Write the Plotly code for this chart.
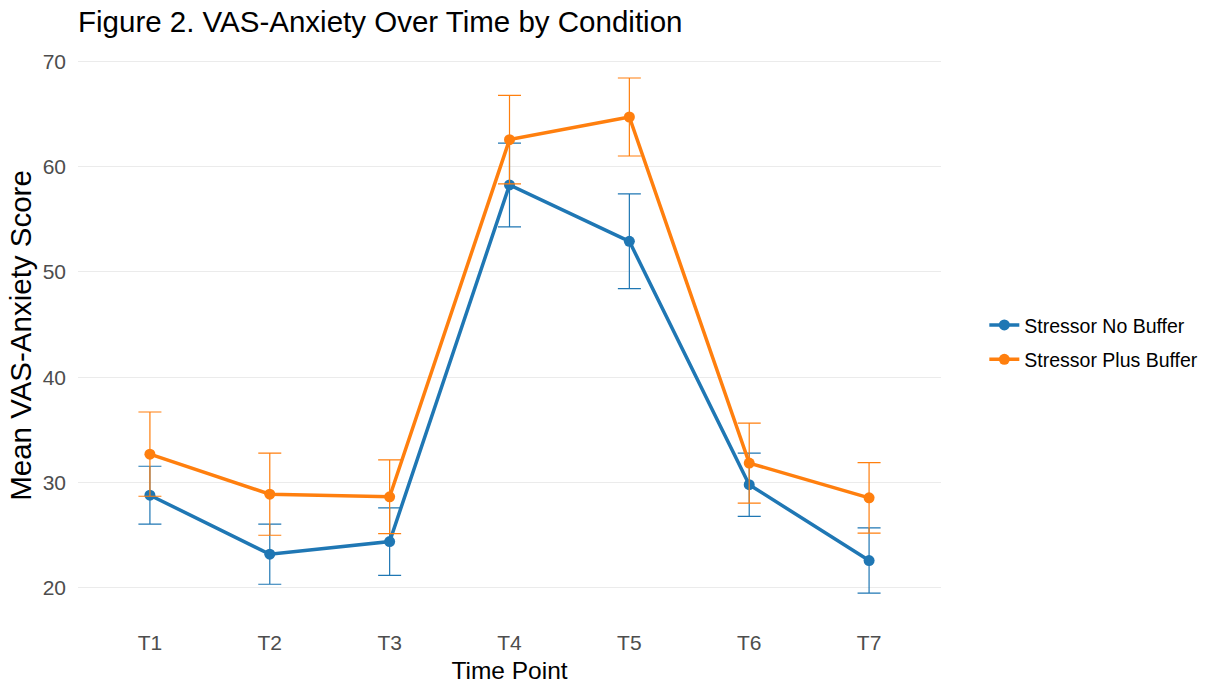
import plotly.graph_objects as go

# Time points and per-condition summary statistics (mean and standard error)
time_points = ["T1", "T2", "T3", "T4", "T5", "T6", "T7"]

no_buffer_mean = [28.8, 23.2, 24.4, 58.25, 52.9, 29.8, 22.6]
no_buffer_se = [2.75, 2.85, 3.2, 3.97, 4.5, 3.0, 3.1]

plus_buffer_mean = [32.7, 28.9, 28.65, 62.55, 64.7, 31.85, 28.55]
plus_buffer_se = [4.0, 3.9, 3.5, 4.2, 3.7, 3.8, 3.35]

series_names = ["Stressor No Buffer", "Stressor Plus Buffer"]
series_colors = ["#1f77b4", "#ff7f0e"]

FONT = "Liberation Sans, Arial, sans-serif"

fig = go.Figure()

for name, color, means, ses in zip(
    series_names,
    series_colors,
    [no_buffer_mean, plus_buffer_mean],
    [no_buffer_se, plus_buffer_se],
):
    fig.add_trace(
        go.Scatter(
            x=time_points,
            y=means,
            name=name,
            legendgroup=name,
            mode="lines+markers",
            line=dict(color=color, width=3.5),
            marker=dict(color=color, size=11),
            error_y=dict(
                type="data",
                array=ses,
                visible=True,
                color=color,
                thickness=1.2,
                width=11.5,
            ),
        )
    )

fig.update_layout(
    width=1215,
    height=687,
    paper_bgcolor="white",
    plot_bgcolor="white",
    margin=dict(l=78, r=274, t=52, b=68),
    font=dict(family=FONT, color="#000000"),
    title=dict(
        text="Figure 2. VAS-Anxiety Over Time by Condition",
        x=78 / 1215,
        xanchor="left",
        y=1 - 22 / 687,
        yanchor="middle",
        font=dict(size=29.5, color="#000000"),
    ),
    legend=dict(
        x=1.0502,
        xanchor="left",
        y=0.488,
        yanchor="middle",
        font=dict(size=19.5, color="#000000"),
        bgcolor="rgba(0,0,0,0)",
        tracegroupgap=6,
    ),
    showlegend=True,
)

fig.update_xaxes(
    type="category",
    range=[-0.6, 6.6],
    showgrid=False,
    zeroline=False,
    showline=False,
    ticks="",
    ticklabelstandoff=9,
    automargin=False,
    tickfont=dict(size=21, color="#4d4d4d"),
    title=dict(text="Time Point", font=dict(size=24.5, color="#000000"), standoff=8),
)

fig.update_yaxes(
    range=[17.05, 70.87],
    tickvals=[20, 30, 40, 50, 60, 70],
    showgrid=True,
    gridcolor="#ebebeb",
    gridwidth=1,
    zeroline=False,
    showline=False,
    ticks="",
    ticklabelstandoff=11,
    automargin=False,
    tickfont=dict(size=21, color="#4d4d4d"),
    title=dict(text="Mean VAS-Anxiety Score", font=dict(size=29.5, color="#000000"), standoff=2),
)

fig.write_html("out.html")
